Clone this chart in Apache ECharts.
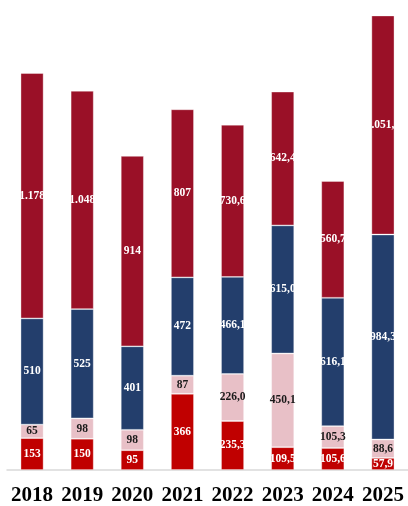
<!DOCTYPE html>
<html><head><meta charset="utf-8">
<script src="https://cdn.jsdelivr.net/npm/echarts@6/dist/echarts.min.js"></script>
<style>html,body{margin:0;padding:0;background:#fff}#c{width:408px;height:506px}</style>
</head><body><div id="c"></div>
<script>
var categories = ['2018','2019','2020','2021','2022','2023','2024','2025'];
var decimals = [0,0,0,0,1,1,1,1];
var redVals = [153,150,95,366,235.3,109.5,105.6,57.9];
var pinkVals = [65,98,98,87,226.0,450.1,105.3,88.6];
var navyVals = [510,525,401,472,466.1,615.0,616.1,984.3];
var darkRedVals = [1178,1048,914,807,730.6,642.4,560.7,1051.7];

function fmt(v, d){
  var s = v.toFixed(d);
  var parts = s.split('.');
  var ip = parts[0].replace(/\B(?=(\d{3})+(?!\d))/g, '.');
  return parts.length > 1 ? ip + ',' + parts[1] : ip;
}
function mk(name, data, color, labelColor){
  return {
    name: name, type: 'bar', stack: 'a', data: data, barWidth: 23,
    itemStyle: {color: color, borderColor: 'rgba(255,255,255,0.45)', borderWidth: 0.8},
    label: {show: true, position: 'inside', color: labelColor,
      fontFamily: 'Liberation Serif', fontWeight: 'bold', fontSize: 11.5,
      formatter: function(p){ return fmt(p.value, decimals[p.dataIndex]); }}
  };
}
var chart = echarts.init(document.getElementById('c'));
chart.setOption({
  animation: false,
  grid: {left: 7, width: 404, top: 0, bottom: 35},
  xAxis: {type: 'category', data: categories,
    axisLine: {lineStyle: {color: '#d9d9d9', width: 1.5}},
    axisTick: {show: false},
    axisLabel: {interval: 0, color: '#000', fontFamily: 'Liberation Serif', fontWeight: 'bold', fontSize: 21, margin: 15}},
  yAxis: {type: 'value', min: 0, max: 2257, show: false, splitLine: {show: false}},
  series: [
    mk('a', redVals, '#c00000', '#fff'),
    mk('b', pinkVals, '#e8c0c7', '#1a1a1a'),
    mk('c', navyVals, '#233e6c', '#fff'),
    mk('d', darkRedVals, '#9a1027', '#fff')
  ]
});
</script></body></html>
